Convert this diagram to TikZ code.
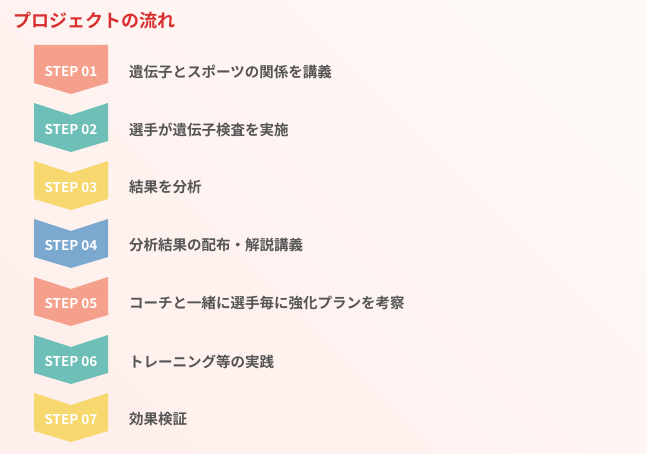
\documentclass[tikz,border=0pt]{standalone}
\usepackage{fontspec}
\setmainfont{Noto Sans CJK JP}
\newfontfamily\jpbold{Noto Sans CJK JP Bold}
\definecolor{bgA}{HTML}{FEEFEC}
\definecolor{bgB}{HTML}{FFF9F6}
\definecolor{titlered}{HTML}{DA2F2F}
\definecolor{labelgray}{HTML}{555555}
\definecolor{cSalmon}{HTML}{F5A08C}
\definecolor{cTeal}{HTML}{6DBFB7}
\definecolor{cYellow}{HTML}{F6D86E}
\definecolor{cBlue}{HTML}{7BA8CF}
\tikzset{
  steptext/.style={text=white, font=\jpbold\fontsize{13.5}{15}\selectfont, inner sep=0pt},
  labeltext/.style={text=labelgray, font=\jpbold\fontsize{14.5}{17}\selectfont, anchor=west, inner sep=0pt},
}
\begin{document}
\begin{tikzpicture}[x=1pt,y=-1pt]
\shade[left color=bgA, right color=bgB, shading angle=135] (0,0) rectangle (647,454);
\useasboundingbox (0,0) rectangle (647,454);
\node[anchor=west, inner sep=0pt, text=titlered, font=\jpbold\fontsize{18}{20}\selectfont] (title) at (13,21) {プロジェクトの流れ};
\foreach \i/\c/\t in {1/cSalmon/遺伝子とスポーツの関係を講義,
                      2/cTeal/選手が遺伝子検査を実施,
                      3/cYellow/結果を分析,
                      4/cBlue/分析結果の配布・解説講義,
                      5/cSalmon/コーチと一緒に選手毎に強化プランを考察,
                      6/cTeal/トレーニング等の実践,
                      7/cYellow/効果検証}{
  \pgfmathsetmacro{\yy}{45+(\i-1)*58}
  \pgfmathsetmacro{\notch}{ifthenelse(\i==1,0,12)}
  \fill[\c] (34,\yy) -- (71,\yy+\notch) -- (108,\yy) -- (108,\yy+38) -- (71,\yy+49) -- (34,\yy+38) -- cycle;
  \node[steptext] (s\i) at (71,\yy+26.5) {STEP 0\i};
  \node[labeltext] (l\i) at (129,\yy+26.5) {\t};
}
\end{tikzpicture}
\end{document}
